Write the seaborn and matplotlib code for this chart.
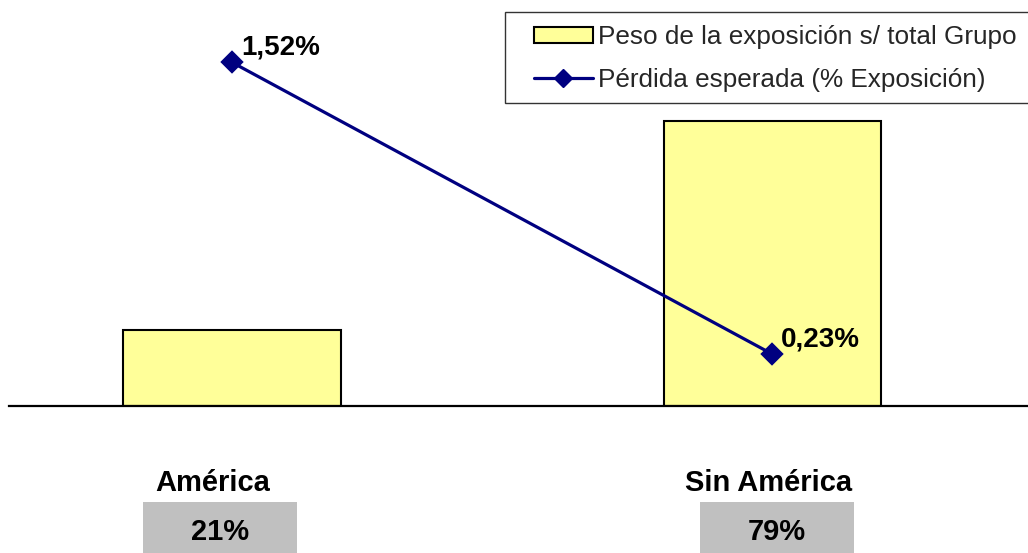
import matplotlib
matplotlib.use("Agg")
import matplotlib.pyplot as plt
import matplotlib.transforms as mtransforms
from matplotlib.patches import Rectangle, Patch
from matplotlib.lines import Line2D
import pandas as pd
import seaborn as sns

# --- data -----------------------------------------------------------------
regions = ["América", "Sin América"]
exposure_share = [21, 79]            # weight of exposure over group total (%)
expected_loss = [1.52, 0.23]         # expected loss (% of exposure)
loss_labels = ["1,52%", "0,23%"]
share_labels = ["21%", "79%"]
legend_labels = ["Peso de la exposición s/ total Grupo",
                 "Pérdida esperada (% Exposición)"]

# --- style ----------------------------------------------------------------
BAR_COLOR = "#FFFF99"
LINE_COLOR = "#000080"
BOX_COLOR = "#C0C0C0"

sns.set_theme(style="white")
plt.rcParams["font.family"] = ["Liberation Sans", "DejaVu Sans"]

W, H = 1028, 553
fig = plt.figure(figsize=(W / 100, H / 100), dpi=100)
ax = fig.add_axes([9 / W, 147 / H, 1018 / W, 406 / H])

df = pd.DataFrame({"region": regions, "share": exposure_share,
                   "loss": expected_loss})

sns.barplot(data=df, x="region", y="share", ax=ax, color=BAR_COLOR,
            saturation=1, width=0.402, edgecolor="black", linewidth=1.5,
            errorbar=None)

ax2 = ax.twinx()
sns.pointplot(data=df, x="region", y="loss", ax=ax2, color=LINE_COLOR,
              markers="D", linestyles="-", markersize=10, linewidth=2.3,
              errorbar=None)

ax.set_xlim(-0.413, 1.472)
ax.set_ylim(0, 112.5)
ax2.set_ylim(0, 1.796)

for a in (ax, ax2):
    a.set_xlabel("")
    a.set_ylabel("")
    a.set_yticks([])
    a.tick_params(axis="both", length=0)
    for s in ("top", "left", "right", "bottom"):
        a.spines[s].set_visible(False)
ax.set_xticks([])
ax.spines["bottom"].set_visible(True)
ax.spines["bottom"].set_color("black")
ax.spines["bottom"].set_linewidth(1.6)

# value labels next to each loss marker
for i, (v, lab) in enumerate(zip(expected_loss, loss_labels)):
    ax2.annotate(lab, xy=(i, v), xytext=(9, 8), textcoords="offset pixels",
                 ha="left", va="baseline", fontsize=20, fontweight="bold",
                 color="black")

# category table under the axis: name and share in a grey cell
name_nudge_px = [-19, -4]
cell_nudge_px = [-12, 5]
cell_width = 0.285
cell_tf = mtransforms.blended_transform_factory(ax.transData, fig.transFigure)
px_per_unit = 1018 / (1.472 + 0.413)
for i, (name, share) in enumerate(zip(regions, share_labels)):
    ax.annotate(name, xy=(i, 0), xytext=(name_nudge_px[i], -85),
                textcoords="offset pixels", ha="center", va="baseline",
                fontsize=21, fontweight="bold", color="black",
                annotation_clip=False)
    cx = i + cell_nudge_px[i] / px_per_unit
    ax.add_patch(Rectangle((cx - cell_width / 2, 0), cell_width, 51 / H,
                           transform=cell_tf, facecolor=BOX_COLOR,
                           edgecolor="none", clip_on=False, zorder=1))
    ax.annotate(share, xy=(i, 0), xytext=(cell_nudge_px[i], -134),
                textcoords="offset pixels", ha="center", va="baseline",
                fontsize=21, fontweight="bold", color="black",
                annotation_clip=False, zorder=2)

# legend
handles = [
    Patch(facecolor=BAR_COLOR, edgecolor="black", linewidth=1.5),
    Line2D([], [], color=LINE_COLOR, linewidth=2.3, marker="D",
           markersize=9),
]
fig.patches.append(Rectangle((505 / W, 1 - 103 / H), 530 / W, 91 / H,
                             transform=fig.transFigure, facecolor="white",
                             edgecolor="#333333", linewidth=1.0))
fig.legend(handles, legend_labels, loc="upper left",
           bbox_to_anchor=(534 / W, 1 - 25 / H), frameon=False,
           borderpad=0, borderaxespad=0, fontsize=18.8, handlelength=2.25,
           handleheight=0.6, handletextpad=0.22, labelspacing=0.72)

fig.savefig("out.png", dpi=100)
